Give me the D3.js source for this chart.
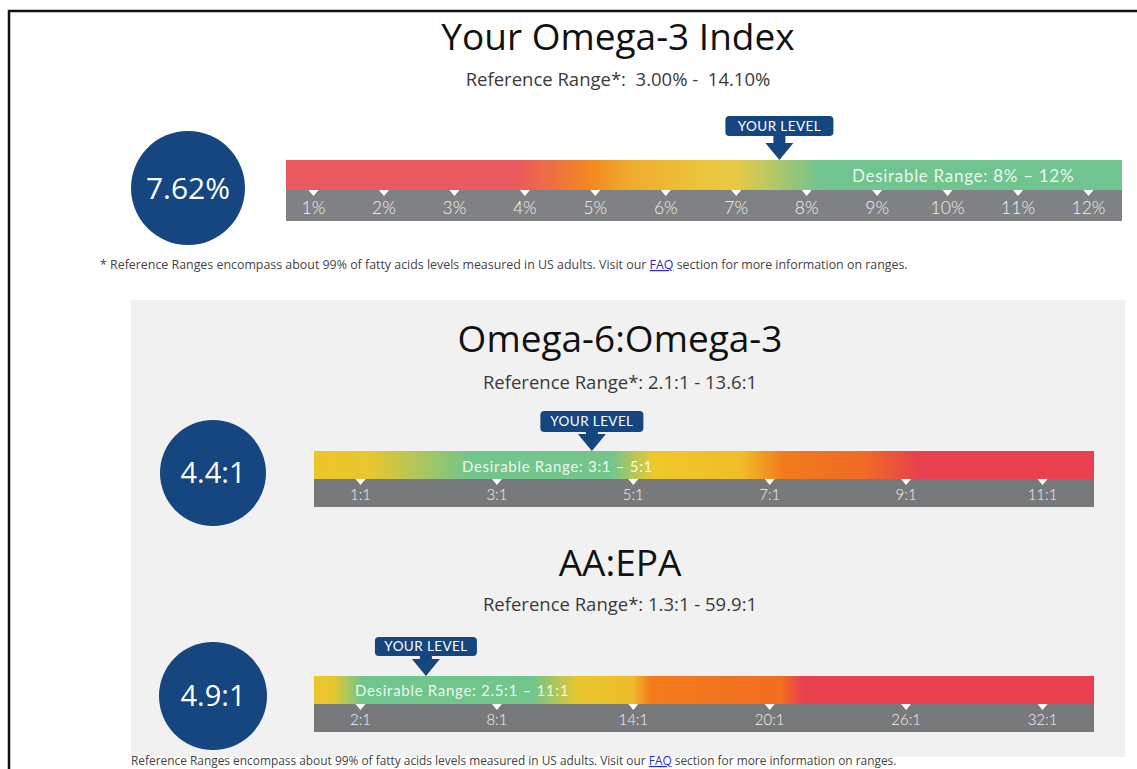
<!DOCTYPE html>
<html>
<head>
<meta charset="utf-8">
<script src="https://cdn.jsdelivr.net/npm/d3@7"></script>
<style>
  body { margin: 0; background: #fff; }
  svg { display: block; }
  text { white-space: pre; }
</style>
</head>
<body>
<svg id="chart"></svg>
<script>
// Omega-3 index gauge
const o3Ticks = [1, 2, 3, 4, 5, 6, 7, 8, 9, 10, 11, 12];
const o3Labels = ["1%", "2%", "3%", "4%", "5%", "6%", "7%", "8%", "9%", "10%", "11%", "12%"];
const o3Value = 7.62;
const o3StopVals = [0.6, 3.85, 4.97, 5.5, 6.5, 7.0, 8.2, 12.5];
const o3StopCols = ["#ea5860", "#ea5860", "#f28a1f", "#f0ab2e", "#ecc43a", "#e8ca46", "#6fc48f", "#6fc48f"];

// Omega-6:Omega-3 ratio gauge
const o6Ticks = [1, 3, 5, 7, 9, 11];
const o6Labels = ["1:1", "3:1", "5:1", "7:1", "9:1", "11:1"];
const o6Value = 4.4;
const o6StopVals = [0.3, 1.15, 2.6, 4.7, 5.3, 6.6, 7.2, 8.4, 9.2, 11.8];
const o6StopCols = ["#ebc52a", "#e8c62e", "#72c58c", "#74c58a", "#eec82a", "#efbd28", "#f27b1c", "#f06a26", "#e8404f", "#e8404f"];

// AA:EPA ratio gauge
const aaTicks = [2, 8, 14, 20, 26, 32];
const aaLabels = ["2:1", "8:1", "14:1", "20:1", "26:1", "32:1"];
const aaValue = 4.9;
const aaStopVals = [0, 0.8, 2.1, 9.6, 11.6, 14, 14.8, 20.5, 21.5, 34.5];
const aaStopCols = ["#ebc52c", "#e9c62e", "#6fc68c", "#72c58b", "#e9c62d", "#eebb2a", "#f47b1a", "#f26e22", "#e8404f", "#e8404f"];

const W = 1137, H = 769;
const svg = d3.select("#chart").attr("width", W).attr("height", H);
const defs = svg.append("defs");
const TXT = "'Open Sans', 'Noto Sans', sans-serif";
const BAR = "Lato, 'Open Sans', sans-serif";
const NAVY = "#15467f";

// outer frame
svg.append("path").attr("d", `M9,${H} V11 H${W}`)
  .attr("fill", "none").attr("stroke", "#111").attr("stroke-width", 2.5);

// grey panel behind second and third gauges
svg.append("rect").attr("x", 131).attr("y", 300).attr("width", 994).attr("height", 457)
  .attr("fill", "#f1f1f1");

function heading(title, sub, cx, y1, y2) {
  svg.append("text").attr("x", cx).attr("y", y1).attr("text-anchor", "middle")
    .attr("font-family", TXT).attr("font-size", 37).attr("fill", "#111").text(title);
  svg.append("text").attr("x", cx).attr("y", y2).attr("text-anchor", "middle")
    .attr("font-family", TXT).attr("font-size", 18.5).attr("fill", "#3a3a3a").text(sub);
}

function badge(cx, cy, r, label, fs) {
  svg.append("circle").attr("cx", cx).attr("cy", cy).attr("r", r).attr("fill", NAVY);
  svg.append("text").attr("x", cx).attr("y", cy).attr("dy", "0.36em").attr("text-anchor", "middle")
    .attr("font-family", TXT).attr("font-size", fs).attr("fill", "#fff").text(label);
}

function gauge(o) {
  // scale: first/last tick mapped onto their pixel positions on the bar
  const x = d3.scaleLinear().domain([o.ticks[0], o.ticks[o.ticks.length - 1]]).range(o.tr);
  const bw = o.x1 - o.x0;
  const g = svg.append("g");

  // gradient colour band
  const grad = defs.append("linearGradient").attr("id", o.id)
    .attr("x1", 0).attr("x2", 1).attr("y1", 0).attr("y2", 0);
  grad.selectAll("stop").data(o.stopVals).join("stop")
    .attr("offset", d => Math.max(0, Math.min(1, (x(d) - o.x0) / bw)))
    .attr("stop-color", (d, i) => o.stopCols[i]);
  g.append("rect").attr("x", o.x0).attr("y", o.y).attr("width", bw).attr("height", o.hc)
    .attr("fill", `url(#${o.id})`);
  g.append("rect").attr("x", o.x0).attr("y", o.y + o.hc).attr("width", bw).attr("height", o.hg)
    .attr("fill", o.gray);

  // desirable range label
  g.append("text").attr("x", o.dx).attr("y", o.dy)
    .attr("font-family", BAR).attr("font-size", o.dfs).attr("letter-spacing", 0.7)
    .attr("fill", "#fff").attr("fill-opacity", 0.88).text(o.desirable);

  // axis with triangle markers
  const axis = d3.axisBottom(x).tickValues(o.ticks)
    .tickFormat((d, i) => o.labels[i]).tickSize(0).tickPadding(0);
  const ax = g.append("g").attr("transform", `translate(0,${o.y + o.hc})`).call(axis);
  ax.select(".domain").remove();
  ax.selectAll(".tick text").attr("y", o.ly).attr("dy", 0)
    .attr("font-family", BAR).attr("font-weight", 300).attr("font-size", o.lfs).attr("fill", "#f2f2f2");
  ax.selectAll(".tick").append("path").attr("d", "M-5,0 L5,0 L0,6 Z").attr("fill", "#fff");

  // YOUR LEVEL marker
  const tx = x(o.value), top = o.y;
  const bb = top - o.gap, bt = bb - o.bh;
  const m = g.append("g");
  m.append("rect").attr("x", tx - o.bw / 2).attr("y", bt).attr("width", o.bw).attr("height", o.bh)
    .attr("rx", 4).attr("fill", NAVY);
  m.append("text").attr("x", tx).attr("y", bt + o.bh / 2).attr("dy", "0.36em").attr("text-anchor", "middle")
    .attr("font-family", BAR).attr("font-size", 13.5).attr("letter-spacing", 0.4)
    .attr("fill", "#fff").text("YOUR LEVEL");
  m.append("path").attr("fill", NAVY)
    .attr("d", `M${tx - 6},${bb - 1} H${tx + 6} V${top - 17} H${tx + 14} L${tx},${top} L${tx - 14},${top - 17} H${tx - 6} Z`);
}

function footnote(xp, y, star, fs) {
  const t = svg.append("text").attr("x", xp).attr("y", y)
    .attr("font-family", TXT).attr("font-size", fs).attr("fill", "#444");
  t.append("tspan").text((star ? "* " : "") + "Reference Ranges encompass about 99% of fatty acids levels measured in US adults. Visit our ");
  t.append("tspan").attr("fill", "#2a2ad0").attr("text-decoration", "underline").text("FAQ");
  t.append("tspan").text(" section for more information on ranges.");
}

// --- Section 1 ---
heading("Your Omega-3 Index", "Reference Range*:  3.00% -  14.10%", 618, 50, 86);
badge(188, 188, 57, "7.62%", 30);
gauge({
  id: "g1", tr: [313, 1088], x0: 286, x1: 1122,
  ticks: o3Ticks, labels: o3Labels, value: o3Value, stopVals: o3StopVals, stopCols: o3StopCols,
  y: 160, hc: 30, hg: 31, gray: "#808184", ly: 24, lfs: 17.5,
  desirable: "Desirable Range: 8% \u2013 12%", dx: 852, dy: 182, dfs: 17,
  gap: 24, bh: 20, bw: 108
});
footnote(100, 269, true, 12.4);

// --- Section 2 ---
heading("Omega-6:Omega-3", "Reference Range*: 2.1:1 - 13.6:1", 620, 352, 389);
badge(213, 473, 53, "4.4:1", 29);
gauge({
  id: "g2", tr: [360, 1042], x0: 314, x1: 1094,
  ticks: o6Ticks, labels: o6Labels, value: o6Value, stopVals: o6StopVals, stopCols: o6StopCols,
  y: 451, hc: 28, hg: 28, gray: "#78797b", ly: 21, lfs: 15,
  desirable: "Desirable Range: 3:1 \u2013 5:1", dx: 462, dy: 472, dfs: 15,
  gap: 19, bh: 21, bw: 103
});

// --- Section 3 ---
heading("AA:EPA", "Reference Range*: 1.3:1 - 59.9:1", 620, 576, 611);
badge(213, 696, 54, "4.9:1", 29);
gauge({
  id: "g3", tr: [360, 1042], x0: 314, x1: 1094,
  ticks: aaTicks, labels: aaLabels, value: aaValue, stopVals: aaStopVals, stopCols: aaStopCols,
  y: 676, hc: 28, hg: 28, gray: "#78797b", ly: 21, lfs: 15,
  desirable: "Desirable Range: 2.5:1 \u2013 11:1", dx: 355, dy: 696, dfs: 15,
  gap: 20, bh: 19, bw: 102
});
footnote(131, 765, false, 11.9);
</script>
</body>
</html>
